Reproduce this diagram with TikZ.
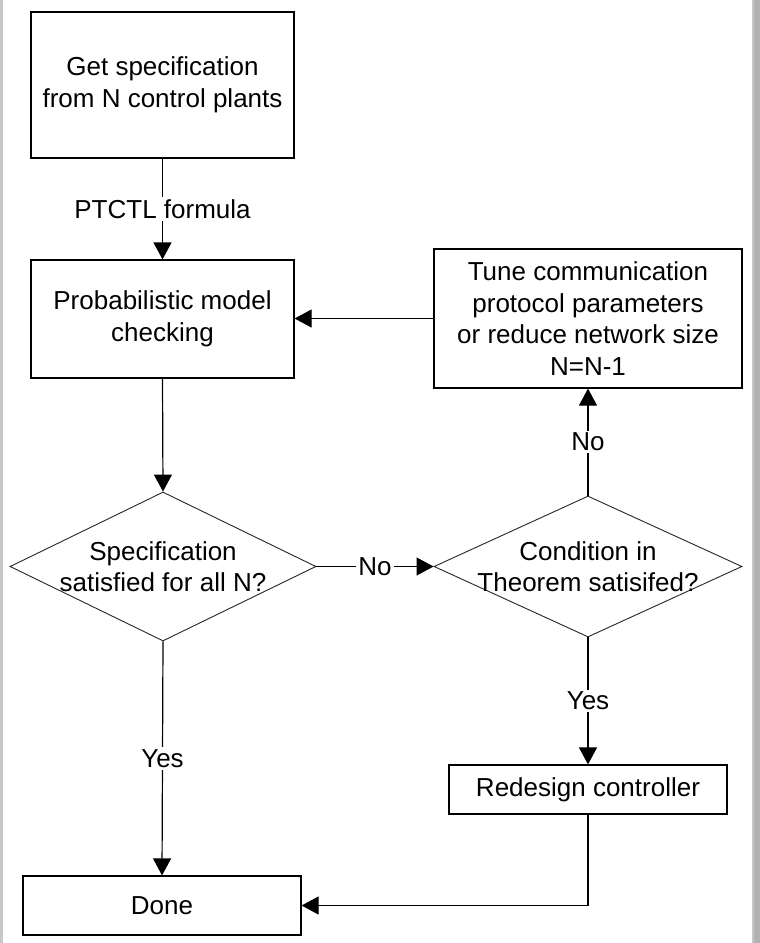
\documentclass[tikz,border=0pt]{standalone}
\usepackage{fontspec}
\setmainfont{Liberation Sans}
\usetikzlibrary{shapes.geometric,arrows.meta}
\begin{document}
\begin{tikzpicture}[x=1pt,y=-1pt,
  font=\fontsize{26}{31.5}\selectfont,
  boxnode/.style={draw=black,line width=1.2pt,rectangle,inner sep=0pt,align=center},
  decision/.style={draw=black!85,line width=0.9pt,diamond,inner sep=0pt},
  conn/.style={line width=1.2pt,-{Triangle[length=17pt,width=18pt]}},
  lbl/.style={fill=white,inner sep=2pt}]
\useasboundingbox (0,0) rectangle (760,943);
\fill[white] (0,0) rectangle (760,943);
\fill[black!22] (0,0) rectangle (2.7,943);
\fill[black!22] (752,0) rectangle (753.5,943);
\fill[black!30] (753.5,0) rectangle (760,943);

\node[boxnode,minimum width=263pt,minimum height=146pt] (spec) at (162.5,85) {Get specification\\from N control plants};
\node[boxnode,minimum width=263pt,minimum height=118pt] (check) at (162.5,319) {Probabilistic model\\checking};
\node[boxnode,minimum width=308pt,minimum height=139pt] (tune) at (588,318.5) {Tune communication\\protocol parameters\\or reduce network size\\N=N-1};
\node[decision,minimum width=306pt,minimum height=149pt,
  label={[align=center]center:Specification\\satisfied for all N?}] (sat) at (163,566.5) {};
\node[decision,minimum width=308pt,minimum height=141pt,
  label={[align=center]center:Condition in\\Theorem satisifed?}] (cond) at (588,566.5) {};
\node[boxnode,minimum width=278pt,minimum height=49pt] (redesign) at (588,789.5) {Redesign controller};
\node[boxnode,minimum width=278pt,minimum height=59pt] (done) at (162,905.5) {Done};

\draw[conn] (spec.south) -- node[lbl] {PTCTL formula} (check.north);
\draw[conn] (tune.west) -- (tune.west -| check.east);
\draw[conn] (check.south) -- (sat.north);
\draw[conn] (sat.east) -- node[lbl] {No} (cond.west);
\draw[conn] (cond.north) -- node[lbl] {No} (tune.south);
\draw[conn] (cond.south) -- node[lbl] {Yes} (redesign.north);
\draw[conn] (sat.south) -- node[lbl] {Yes} (done.north);
\draw[conn] (redesign.south) |- (done.east);
\end{tikzpicture}
\end{document}
